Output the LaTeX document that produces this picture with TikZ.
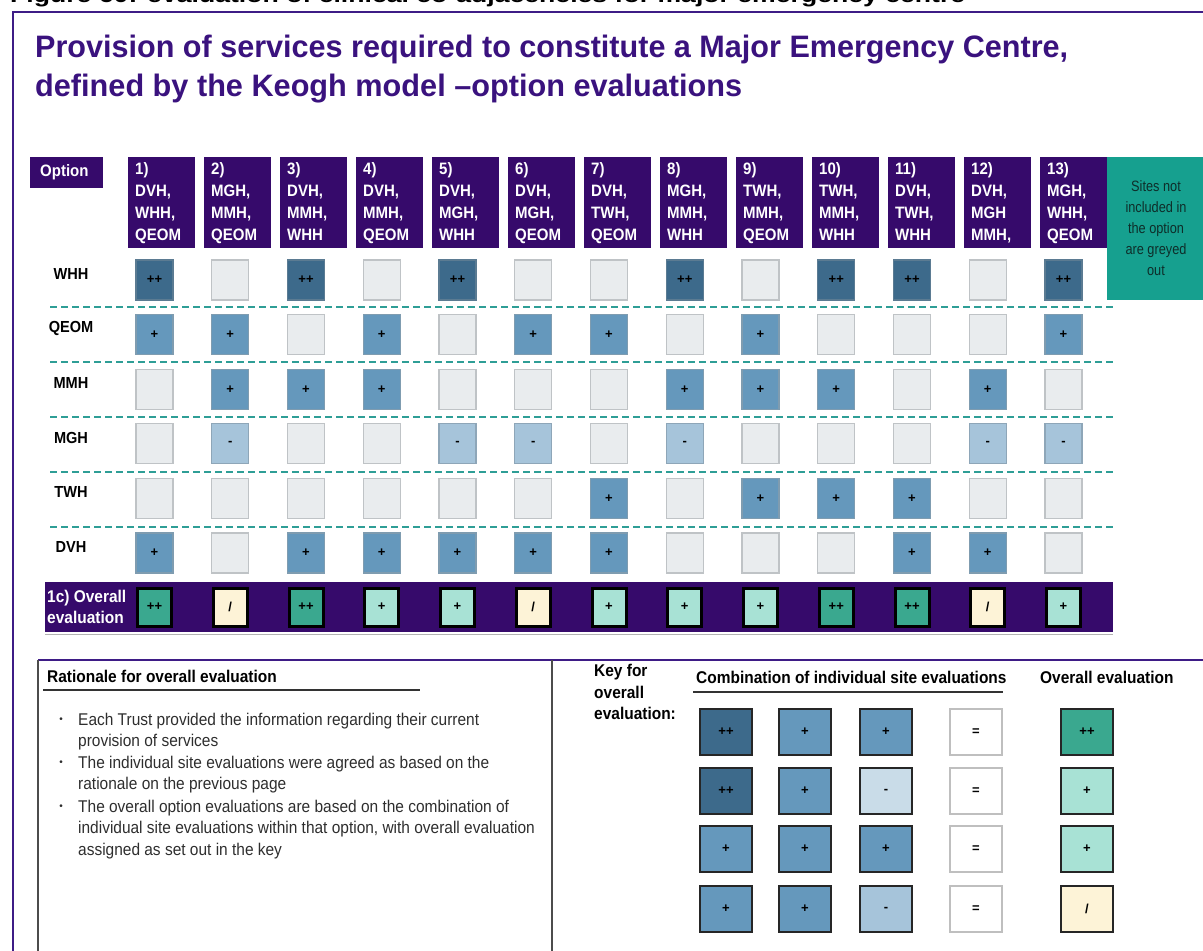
\documentclass[tikz,border=0pt]{standalone}
\usepackage{fontspec}
\usepackage{graphicx}
\setmainfont{Liberation Sans}
\newfontfamily\nar[FakeStretch=0.91]{Liberation Sans}
\newfontfamily\narn[FakeStretch=0.85]{Liberation Sans}
\definecolor{frame}{HTML}{3E1C86}
\definecolor{hdr}{HTML}{360A6B}
\definecolor{ttl}{HTML}{3A127E}
\definecolor{tealbox}{HTML}{16A08F}
\definecolor{notetxt}{HTML}{0E2E2A}
\definecolor{dashc}{HTML}{2E9E96}
\definecolor{cPP}{HTML}{3D6A8B}
\definecolor{cPPd}{HTML}{5B7B92}
\definecolor{cP}{HTML}{6598BC}
\definecolor{cPd}{HTML}{7F9CB0}
\definecolor{cM}{HTML}{A6C4DA}
\definecolor{cMd}{HTML}{8EA6B8}
\definecolor{cML}{HTML}{C9DCE8}
\definecolor{cE}{HTML}{E9ECEE}
\definecolor{cEd}{HTML}{BFC3C6}
\definecolor{oG}{HTML}{3AA88F}
\definecolor{oL}{HTML}{A8E2D5}
\definecolor{oY}{HTML}{FDF3D7}
\definecolor{bodytxt}{HTML}{2E2E2E}
\tikzset{
  cellbase/.style={minimum width=37pt, minimum height=40pt, inner sep=0pt, line width=1.2pt,
    font=\bfseries\fontsize{13}{13}\selectfont},
  E/.style={cellbase, fill=cE, draw=cEd, node contents={}},
  PP/.style={cellbase, fill=cPP, draw=cPPd, node contents={++}},
  P/.style={cellbase, fill=cP, draw=cPd, node contents={+}},
  M/.style={cellbase, fill=cM, draw=cMd, node contents={-}},
  obase/.style={minimum width=34pt, minimum height=38pt, inner sep=0pt, line width=3pt, draw=black,
    font=\bfseries\fontsize{13}{13}\selectfont},
  OG/.style={obase, fill=oG, node contents={++}},
  OL/.style={obase, fill=oL, node contents={+}},
  OY/.style={obase, fill=oY, node contents={/}},
  kbase/.style={minimum width=52pt, minimum height=46pt, inner sep=0pt, line width=2.2pt, draw=black!85,
    font=\bfseries\fontsize{13}{13}\selectfont},
  hbox/.style={fill=hdr, minimum width=67pt, minimum height=91pt, inner sep=0pt, anchor=north west},
  htext/.style={anchor=north west, inner sep=0pt, text=white, align=left,
    font=\nar\bfseries\fontsize{16.5}{22}\selectfont},
  rowlab/.style={font=\nar\bfseries\fontsize{16}{16}\selectfont, inner sep=0pt},
  sepline/.style={dashc, line width=1.6pt, dash pattern=on 7pt off 4pt},
  bodyline/.style={anchor=west, inner sep=0pt, text=bodytxt, font=\nar\fontsize{17}{17}\selectfont},
  bullet/.style={anchor=center, inner sep=0pt, text=bodytxt, font=\fontsize{10}{10}\selectfont},
  keyhead/.style={anchor=west, inner sep=0pt, font=\nar\bfseries\fontsize{17}{17}\selectfont}
}
\begin{document}
\begin{tikzpicture}[x=1pt,y=-1pt]
\useasboundingbox (0,0) rectangle (1203,951);
\begin{scope}
\clip (0,0) rectangle (1203,951);
% caption (cut off at the top)
\node[anchor=base west, inner sep=0pt] (caption) at (10,2)
  {\resizebox{955pt}{\height}{\bfseries\fontsize{21}{21}\selectfont Figure 60: evaluation of clinical co-adjacencies for major emergency centre}};
% outer frame
\draw[frame, line width=2pt] (1210,12) -- (13,12) -- (13,960);
% title
\node[anchor=base west, inner sep=0pt, text=ttl] (title1) at (35,57)
  {\resizebox{1033pt}{\height}{\bfseries\fontsize{31}{31}\selectfont Provision of services required to constitute a Major Emergency Centre,}};
\node[anchor=base west, inner sep=0pt, text=ttl] (title2) at (35,96)
  {\resizebox{707pt}{\height}{\bfseries\fontsize{31}{31}\selectfont defined by the Keogh model \textendash option evaluations}};
% option header
\node[fill=hdr, anchor=north west, minimum width=73pt, minimum height=31pt, inner sep=0pt] (opt) at (30,157) {};
\node[anchor=west, text=white, inner sep=0pt, font=\nar\bfseries\fontsize{16.5}{16.5}\selectfont] (optlab) at (40,172) {Option};
\foreach \t [count=\i] in {{1)\\DVH,\\WHH,\\QEOM},{2)\\MGH,\\MMH,\\QEOM},{3)\\DVH,\\MMH,\\WHH},{4)\\DVH,\\MMH,\\QEOM},
  {5)\\DVH,\\MGH,\\WHH},{6)\\DVH,\\MGH,\\QEOM},{7)\\DVH,\\TWH,\\QEOM},{8)\\MGH,\\MMH,\\WHH},{9)\\TWH,\\MMH,\\QEOM},
  {10)\\TWH,\\MMH,\\WHH},{11)\\DVH,\\TWH,\\WHH},{12)\\DVH,\\MGH\\MMH,},{13)\\MGH,\\WHH,\\QEOM}} {
  \node[hbox] (h\i) at ({128+76*(\i-1)},157) {};
  \node[htext] (ht\i) at ({135+76*(\i-1)},162) {\t};
}
% note box
\node[fill=tealbox, anchor=north west, minimum width=100pt, minimum height=143pt, inner sep=0pt] (note) at (1107,157) {};
\node[align=center, inner sep=0pt, text=notetxt, font=\narn\fontsize{15}{21}\selectfont] (notetext) at (1156,228)
  {Sites not\\included in\\the option\\are greyed\\out};
% row labels
\foreach \lab [count=\r] in {WHH,QEOM,MMH,MGH,TWH,DVH}
  \node[rowlab] (lab\r) at (71,{274+54.6*(\r-1)}) {\lab};
% dashed separators
\foreach \k in {0,...,4}
  \draw[sepline] (50,{307+55*\k}) -- (1115,{307+55*\k});
% grid cells
\foreach \row [count=\r] in {
  {PP,E,PP,E,PP,E,E,PP,E,PP,PP,E,PP},
  {P,P,E,P,E,P,P,E,P,E,E,E,P},
  {E,P,P,P,E,E,E,P,P,P,E,P,E},
  {E,M,E,E,M,M,E,M,E,E,E,M,M},
  {E,E,E,E,E,E,P,E,P,P,P,E,E},
  {P,E,P,P,P,P,P,E,E,E,P,P,E}}
  \foreach \s [count=\c] in \row
    \node (c\r-\c) at ({154.5+75.75*(\c-1)},{280+54.6*(\r-1)}) [\s];
% overall band
\node[fill=hdr, anchor=north west, minimum width=1068pt, minimum height=50pt, inner sep=0pt] (band) at (45,582) {};
\draw[black!30, line width=1pt] (45,634) -- (1113,634);
\node[anchor=west, align=left, inner sep=0pt, text=white, font=\nar\bfseries\fontsize{17}{21}\selectfont] (bandlab) at (47,607)
  {1c) Overall\\evaluation};
\foreach \s [count=\c] in {OG,OY,OG,OL,OL,OY,OL,OL,OL,OG,OG,OY,OL}
  \node (o\c) at ({154.5+75.75*(\c-1)},607) [\s];
% bottom section frame
\draw[frame, line width=2.5pt] (38,660) -- (1210,660);
\draw[black!70, line width=1.2pt] (38,660) -- (38,960);
\draw[black!70, line width=1.2pt] (552,660) -- (552,960);
% rationale
\node[keyhead] (rathead) at (47,676) {Rationale for overall evaluation};
\draw[black!80, line width=1.2pt] (43,690) -- (420,690);
\node[bullet] (b1) at (61,720) {•};
\node[bullet] (b2) at (61,763) {•};
\node[bullet] (b3) at (61,807) {•};
\node[bodyline] (l1) at (78,721) {Each Trust provided the information regarding their current};
\node[bodyline] (l2) at (78,742) {provision of services};
\node[bodyline] (l3) at (78,764) {The individual site evaluations were agreed as based on the};
\node[bodyline] (l4) at (78,785) {rationale on the previous page};
\node[bodyline] (l5) at (78,808) {The overall option evaluations are based on the combination of};
\node[bodyline] (l6) at (78,829) {individual site evaluations within that option, with overall evaluation};
\node[bodyline] (l7) at (78,851) {assigned as set out in the key};
% key
\node[anchor=north west, align=left, inner sep=0pt, font=\nar\bfseries\fontsize{17}{21.5}\selectfont] (keylab) at (594,664)
  {Key for\\overall\\evaluation:};
\node[keyhead] (combhead) at (696,677) {Combination of individual site evaluations};
\draw[black!80, line width=1.2pt] (693,692) -- (1003,692);
\node[keyhead] (ovhead) at (1040,677) {Overall evaluation};
\foreach \y [count=\r] in {732,791,849,909} {
  \node[kbase, fill=white, draw=black!25, line width=1.2pt] (keq\r) at (976,\y) {=};
}
\node[kbase, fill=cPP] (k1a) at (726,732) {++};
\node[kbase, fill=cP]  (k1b) at (805,732) {+};
\node[kbase, fill=cP]  (k1c) at (886,732) {+};
\node[kbase, fill=oG]  (k1o) at (1087,732) {++};
\node[kbase, fill=cPP] (k2a) at (726,791) {++};
\node[kbase, fill=cP]  (k2b) at (805,791) {+};
\node[kbase, fill=cML] (k2c) at (886,791) {-};
\node[kbase, fill=oL]  (k2o) at (1087,791) {+};
\node[kbase, fill=cP]  (k3a) at (726,849) {+};
\node[kbase, fill=cP]  (k3b) at (805,849) {+};
\node[kbase, fill=cP]  (k3c) at (886,849) {+};
\node[kbase, fill=oL]  (k3o) at (1087,849) {+};
\node[kbase, fill=cP]  (k4a) at (726,909) {+};
\node[kbase, fill=cP]  (k4b) at (805,909) {+};
\node[kbase, fill=cM]  (k4c) at (886,909) {-};
\node[kbase, fill=oY]  (k4o) at (1087,909) {/};
\end{scope}
\end{tikzpicture}
\end{document}
